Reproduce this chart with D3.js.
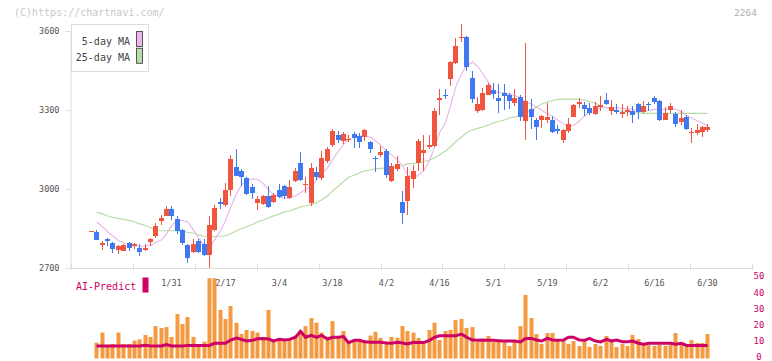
<!DOCTYPE html>
<html><head><meta charset="utf-8">
<script src="https://cdn.jsdelivr.net/npm/d3@7"></script>
<style>
body{margin:0;background:#fff}
svg{display:block}
text{font-family:"DejaVu Sans Mono",monospace}
</style>
</head><body>
<svg id="c" width="772" height="361"></svg>
<script>
const dates = ["1/9","1/10","1/14","1/15","1/16","1/17","1/20","1/21","1/22","1/23","1/24","1/27","1/28","1/29","1/30","1/31",
"2/3","2/4","2/5","2/6","2/7","2/10","2/12","2/13","2/14","2/17","2/18","2/19","2/20","2/21","2/25","2/26","2/27","2/28",
"3/3","3/4","3/5","3/6","3/7","3/10","3/11","3/12","3/13","3/14","3/17","3/18","3/19","3/21","3/24","3/25","3/26","3/27","3/28","3/31",
"4/1","4/2","4/3","4/4","4/7","4/8","4/9","4/10","4/11","4/14","4/15","4/16","4/17","4/18","4/21","4/22","4/23","4/24","4/25","4/28","4/30",
"5/1","5/2","5/7","5/8","5/9","5/12","5/13","5/14","5/15","5/16","5/19","5/20","5/21","5/22","5/23","5/26","5/27","5/28","5/29","5/30",
"6/2","6/3","6/4","6/5","6/6","6/9","6/10","6/11","6/12","6/13","6/16","6/17","6/18","6/19","6/20","6/23","6/24","6/25","6/26","6/27","6/30"];

const open = [2840,2837,2788,2809,2796,2768,2765,2794,2783,2777, 2766,2798,2819,2876,2898,2924,2886,2844,2785,2760,
2802,2789,2747,2842,2951,2937,2996,3084,3068,3041, 3006,2948,2943,2972,2949,2996,3011,2966,3028,3099,
3015,2947,3066,3042,3106,3167,3205,3182,3189,3208, 3202,3199,3178,3117,3128,3144,3028,3077,2951,2952,
3038,3098,3138,3159,3163,3338,3357,3418,3478,3575, 3577,3421,3296,3300,3357,3376,3345,3364,3357,3327,
3349,3258,3304,3262,3262,3262,3262,3227,3186,3221, 3275,3323,3319,3308,3285,3313,3338,3297,3301,3286,
3294,3296,3323,3292,3321,3345,3334,3263,3301,3286, 3255,3275,3212,3212,3218,3224];

const high = [2841,2844,2803,2814,2797,2788,2790,2797,2795,2790, 2790,2815,2870,2900,2935,2933,2898,2848,2790,2811,
2810,2810,2898,2939,2966,3024,3129,3152,3075,3045, 3018,2973,2976,3011,2984,3019,3015,3034,3079,3142,
3047,3099,3082,3143,3160,3227,3221,3218,3205,3218, 3211,3229,3183,3125,3162,3150,3098,3125,2992,3085,
3092,3190,3205,3205,3308,3380,3380,3485,3573,3627, 3580,3448,3350,3384,3402,3402,3399,3399,3364,3380,
3357,3554,3342,3270,3281,3327,3277,3243,3228,3270, 3323,3345,3330,3328,3330,3353,3364,3338,3323,3323,
3315,3315,3327,3334,3330,3353,3338,3311,3327,3292, 3300,3282,3233,3247,3240,3247];

const low = [2839,2804,2766,2783,2758,2753,2762,2762,2772,2743, 2763,2781,2815,2863,2895,2882,2829,2785,2720,2755,
2755,2745,2700,2840,2922,2930,2973,3050,3009,2977, 2961,2918,2938,2927,2945,2965,2960,2960,3025,3030,
2986,2933,3032,3035,3100,3160,3176,3171,3178,3155, 3157,3182,3138,3063,3120,3040,3025,3068,2867,2899,
3003,3069,3068,3151,3158,3281,3340,3391,3475,3558, 3448,3327,3289,3295,3355,3342,3290,3300,3304,3315,
3258,3186,3228,3186,3232,3251,3212,3209,3176,3214, 3272,3308,3278,3280,3282,3297,3320,3282,3285,3271,
3277,3252,3266,3290,3296,3323,3258,3260,3290,3237, 3244,3225,3176,3206,3199,3218];

const close = [2840,2804,2795,2800,2772,2781,2787,2777,2790,2761, 2777,2808,2860,2890,2924,2898,2840,2796,2739,2791,
2761,2750,2863,2927,2942,2996,3114,3050,3047,2982, 2984,2962,2973,2932,2977,2970,2971,3008,3068,3034,
3018,3080,3046,3118,3152,3221,3186,3208,3191,3195, 3178,3224,3152,3113,3142,3053,3087,3095,2909,3050,
3069,3182,3148,3167,3297,3345,3353,3482,3543,3579, 3463,3342,3323,3365,3395,3361,3334,3353,3334,3345,
3273,3334,3273,3235,3277,3273,3216,3221,3224,3247, 3319,3330,3305,3289,3315,3317,3323,3311,3292,3294,
3298,3282,3292,3315,3317,3331,3263,3289,3315,3248, 3271,3229,3216,3224,3237,3237];

const ma5 = [null,2874,2856,2837,2822,2804,2795,2787,2784,2782, 2782,2785,2795,2806,2829,2860,2880,2880,2875,2844,
2814,2784,2776,2806,2841,2879,2928,2981,3015,3030, 3038,3036,3019,2996,2979,2970,2965,2966,2973,2985,
2998,3011,3034,3057,3080,3110,3144,3167,3190,3197, 3201,3201,3196,3182,3167,3144,3129,3110,3087,3053,
3042,3053,3068,3107,3157,3212,3252,3315,3385,3437, 3468,3482,3466,3440,3404,3374,3366,3364,3361,3355,
3346,3330,3323,3311,3300,3285,3275,3262,3247,3237, 3241,3258,3277,3292,3302,3308,3309,3309,3308,3306,
3304,3302,3296,3294,3298,3302,3302,3302,3302,3304, 3292,3279,3270,3258,3249,3241];

const ma25 = [null,2912,2905,2897,2892,2888,2884,2880,2875,2867, 2861,2852,2842,2841,2841,2841,2841,2839,2835,2831,
2825,2820,2819,2819,2820,2822,2829,2841,2848,2856, 2865,2875,2882,2890,2897,2905,2913,2916,2924,2932,
2935,2941,2947,2958,2973,2992,3011,3027,3044,3053, 3061,3068,3072,3076,3078,3079,3080,3084,3089,3095,
3097,3099,3103,3110,3118,3129,3144,3160,3178,3197, 3213,3224,3230,3235,3243,3251,3256,3262,3270,3273,
3277,3289,3300,3311,3323,3330,3336,3340,3341,3341, 3341,3340,3338,3332,3325,3315,3308,3302,3298,3294,
3292,3290,3289,3287,3287,3287,3287,3287,3287,3287, 3287,3287,3287,3287,3287,3287];

const volume = [null,9.8,16,7.7,9,16,9,9,11,11.8, 14.5,13.3,20,18.8,19.4,13.3,27.5,21.3,25.6,13.3,
7.7,10.4,49.5,49.5,30,24.4,32.4,22,15.1,17.6, 17,16,13.3,30,10.4,11.4,11.4,11.4,14.1,17,
20,25,22.1,16,13.5,23.1,13.5,17,10.2,11.4, 11.4,11.4,14.1,16.5,12.7,10.4,13.3,12.7,20,17,
16,12.7,10.4,17.6,22.1,11.4,17,17.6,23.7,24.4, 18.8,19.4,10.2,11.4,13.9,10.2,10.2,10.8,7.7,11.4,
20,39.2,25,15.1,9,15.7,15.7,10.8,11.4,9, 10.8,7.7,10.8,7.1,9,7.7,13.9,11.4,7.1,9,
7.7,14.5,12,8.4,8.4,7.7,8.4,7.7,8.4,15.7, 8.4,7.1,11.4,9.6,9.6,15.1];

const aiPredict = [null,7.7,7.7,7.7,7.7,7.7,7.7,7.7,7.7,7.7, 8.1,7.7,7.7,7.7,8.6,7.7,7.7,7.7,8.1,8.1,
8.1,8.1,8.1,9.4,9.4,9.4,11.4,12.6,11.8,10.8, 11.2,12.2,12.4,12,10.8,11.8,11.4,11.8,13.1,16.8,
13.1,14.3,13.1,14.3,12,13.1,13.1,13.5,9.8,11.2, 11.2,10.4,10,10,10,9.6,9.4,10,9.6,9,
10,9.8,9.8,11.2,13.1,14,14,14,14,15.1, 13.1,11.4,11.2,11.4,11.2,11.2,11,10.8,10.8,10.8,
10.2,12.4,12.4,11.4,10.8,12.4,11.4,11.2,11.4,13.1, 13.1,11.4,11.2,12.4,10.8,10.2,11.8,10.8,11.4,10.4,
10.4,10.8,9.4,8.8,9.4,9.4,9.4,9.4,9.4,8.8, 9.4,8.1,8.1,8.1,8.1,8.1];

const dateLabels = ["1/31","2/17","3/4","3/18","4/2","4/16","5/1","5/19","6/2","6/16","6/30"];
const priceTicks = [2700,3000,3300,3600];
const volumeTicks = [0,10,20,30,40,50];
const legendItems = ["5-day MA","25-day MA"];

const UP = "#f05540", DOWN = "#4078f0";
const svg = d3.select("#c");

const x = d3.scaleBand().domain(dates).range([88.8, 710.6]);
const cx = d => Math.floor(x(d) + x.bandwidth()/2);
const y = d3.scaleLinear().domain([2700,3600]).range([267.8,31]);
const yv = d3.scaleLinear().domain([0,50]).range([358.5,277.5]);
const xg = d3.scaleLinear().domain([0,11]).range([71,752]);

// watermark
svg.append("text").attr("x",14).attr("y",15.5).attr("font-size",10).attr("fill","#c8c8c8").text("(C)https://chartnavi.com/");
svg.append("text").attr("x",757).attr("y",15.5).attr("text-anchor","end").attr("font-size",9.5).attr("fill","#b0b0b0").text("2264");

// left axis
const ax = svg.append("g").attr("transform","translate(70.5,0)")
  .call(d3.axisLeft(y).tickValues(priceTicks).tickSize(5).tickSizeOuter(0).tickFormat(d3.format("d")));
ax.select(".domain").attr("stroke","#dddddd");
ax.selectAll(".tick line").attr("stroke","#dddddd");
ax.selectAll(".tick text").attr("fill","#555").attr("font-size",8.5).attr("font-family","DejaVu Sans Mono").attr("x",-11);

// bottom axis line and ticks
svg.append("line").attr("x1",71).attr("x2",752).attr("y1",268.5).attr("y2",268.5).attr("stroke","#dddddd");
svg.append("g").selectAll("line").data(d3.range(12)).join("line")
  .attr("x1",d=>Math.round(xg(d))+0.5).attr("x2",d=>Math.round(xg(d))+0.5)
  .attr("y1",264).attr("y2",270).attr("stroke","#dddddd");

// x labels
svg.append("g").selectAll("text").data(dateLabels).join("text")
  .attr("x",d=>cx(d)+0.5).attr("y",285.5).attr("text-anchor","middle")
  .attr("font-size",8.5).attr("fill","#555").text(d=>d);

// MA lines
const idx = d3.range(dates.length);
const lineMA = arr => d3.line().defined(i=>arr[i]!=null).x(i=>cx(dates[i])+0.5).y(i=>y(arr[i]));
svg.append("path").datum(idx).attr("d",lineMA(ma25)).attr("fill","none").attr("stroke","#b4dca4").attr("stroke-width",1.1);
svg.append("path").datum(idx).attr("d",lineMA(ma5)).attr("fill","none").attr("stroke","#e8b4ea").attr("stroke-width",1.1);

// candles
const cg = svg.append("g");
idx.forEach(i=>{
  const c = close[i]>=open[i] ? UP : DOWN;
  const px = cx(dates[i]);
  const yh = Math.round(y(high[i])), yl = Math.round(y(low[i]));
  cg.append("rect").attr("x",px).attr("y",yh).attr("width",1).attr("height",Math.max(1,yl-yh)).attr("fill",c);
  const yt = Math.round(y(Math.max(open[i],close[i]))), yb = Math.round(y(Math.min(open[i],close[i])));
  cg.append("rect").attr("x",px-2).attr("y",yt).attr("width",5).attr("height",Math.max(1,yb-yt)).attr("fill",c);
});

// legend
const lg = svg.append("g");
lg.append("rect").attr("x",71.5).attr("y",24.5).attr("width",77).attr("height",47).attr("fill","#fff").attr("stroke","#dddddd");
lg.selectAll("text").data(legendItems).join("text")
  .attr("x",130).attr("y",(d,i)=>44.5+i*16.5).attr("text-anchor","end").attr("font-size",10).attr("fill","#444").text(d=>d);
lg.selectAll("rect.sw").data(["#ebb8ec","#b8dcaa"]).join("rect").attr("class","sw")
  .attr("x",136.5).attr("y",(d,i)=>31.5+i*16.8).attr("width",6).attr("height",15).attr("fill",d=>d).attr("stroke","#555");

// volume bars
svg.append("g").selectAll("rect").data(idx.filter(i=>volume[i]!=null)).join("rect")
  .attr("x",i=>cx(dates[i])-1.5).attr("width",4)
  .attr("y",i=>yv(volume[i])).attr("height",i=>yv(0)-yv(volume[i]))
  .attr("fill","#f39a42");

// AI line
svg.append("path").datum(idx).attr("d",d3.line().defined(i=>aiPredict[i]!=null).x(i=>cx(dates[i])+0.5).y(i=>yv(aiPredict[i])))
  .attr("fill","none").attr("stroke","#cc0066").attr("stroke-width",3);

// AI label
svg.append("text").attr("x",76).attr("y",289.5).attr("font-size",10).attr("fill","#cc0066").text("AI-Predict");
svg.append("rect").attr("x",142.5).attr("y",277.5).attr("width",6).attr("height",15).attr("fill","#cc0066");

// right volume axis labels
svg.append("g").selectAll("text").data(volumeTicks).join("text")
  .attr("x",759).attr("y",d=>yv(d)-1).attr("dy","0.32em").attr("text-anchor","middle")
  .attr("font-size",9).attr("fill","#cc0066").text(d=>d);
</script>
</body></html>
